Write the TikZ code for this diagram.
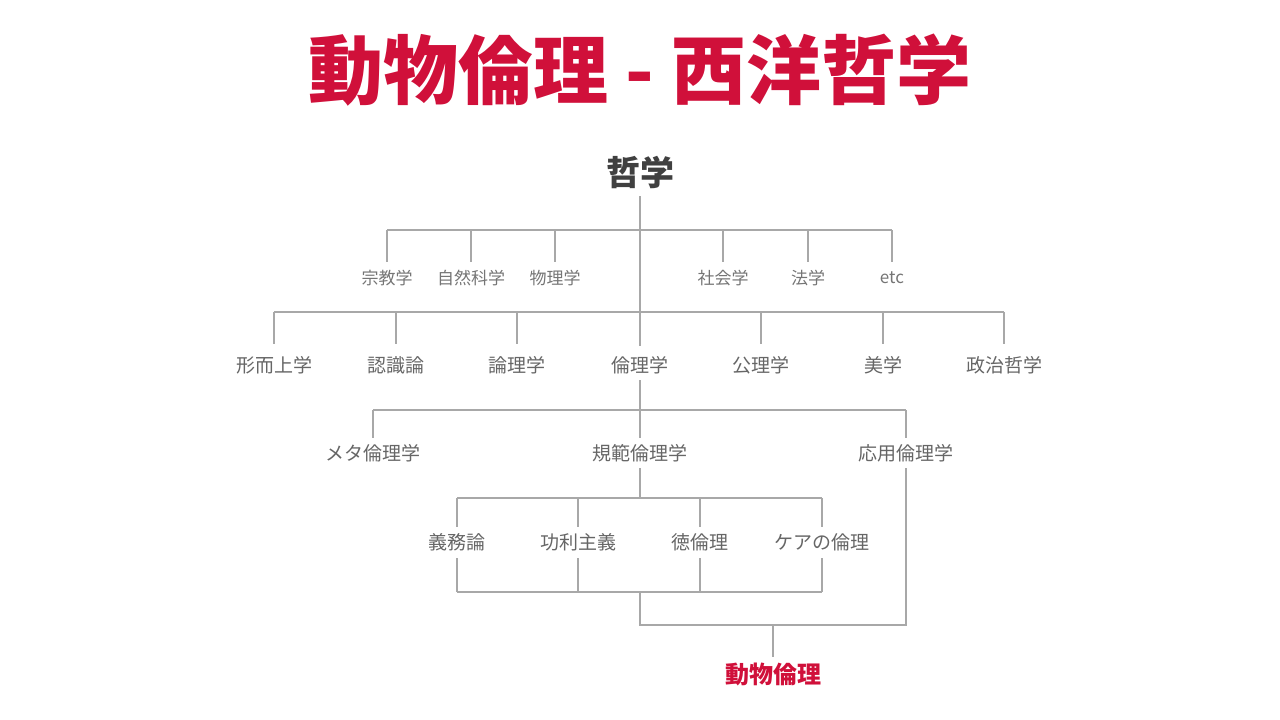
\documentclass[tikz,border=0pt]{standalone}
\usepackage{fontspec}
\setmainfont{Noto Sans CJK JP}
\definecolor{tred}{HTML}{D0103A}
\definecolor{tgray}{HTML}{666666}
\definecolor{lgray}{HTML}{A8A8A8}
\begin{document}
\begin{tikzpicture}[x=1pt,y=-1pt,
  ln/.style={draw=lgray,line width=2pt},
  lbl/.style={text=tgray,font=\fontsize{19}{22}\selectfont,inner sep=1pt},
  sml/.style={text=tgray!90,font=\fontsize{17}{20}\selectfont,inner sep=1pt}]
\useasboundingbox (0,0) rectangle (1280,720);
\node[text=tred,font=\fontsize{75}{80}\selectfont\bfseries] (title) at (640,70) {動物倫理 - 西洋哲学};
\node[text=black!75,font=\fontsize{34}{37}\selectfont\bfseries] (root) at (640,172) {哲学};
% row 1
\foreach \x/\t/\n in {387/宗教学/a1,471/自然科学/a2,555/物理学/a3,723/社会学/a4,808/法学/a5,892/etc/a6}
  \node[sml] (\n) at (\x,278) {\t};
\draw[ln] (640,196) -- (640,312);
\draw[ln] (387,230) -- (892,230);
\foreach \x in {387,471,555,723,808,892} \draw[ln] (\x,230) -- (\x,262);
% row 2
\foreach \x/\t/\n in {274/形而上学/b1,396/認識論/b2,517/論理学/b3,640/倫理学/b4,761/公理学/b5,883/美学/b6,1004/政治哲学/b7}
  \node[lbl] (\n) at (\x,365) {\t};
\draw[ln] (274,312) -- (1004,312);
\foreach \x in {274,396,517,761,883,1004} \draw[ln] (\x,312) -- (\x,344);
\draw[ln] (640,312) -- (640,346);
% row 3
\node[lbl] (c1) at (373,453) {メタ倫理学};
\node[lbl] (c2) at (640,453) {規範倫理学};
\node[lbl] (c3) at (906,453) {応用倫理学};
\draw[ln] (640,380) -- (640,410);
\draw[ln] (373,410) -- (906,410);
\foreach \x in {373,640,906} \draw[ln] (\x,410) -- (\x,438);
% row 4
\foreach \x/\t/\n in {457/義務論/d1,578/功利主義/d2,700/徳倫理/d3,822/ケアの倫理/d4}
  \node[lbl] (\n) at (\x,542) {\t};
\draw[ln] (640,468) -- (640,498);
\draw[ln] (457,498) -- (822,498);
\foreach \x in {457,578,700,822} {\draw[ln] (\x,498) -- (\x,527); \draw[ln] (\x,558) -- (\x,592);}
\draw[ln] (457,592) -- (822,592);
\draw[ln] (640,592) -- (640,625) -- (906,625) -- (906,468);
\draw[ln] (773,625) -- (773,657);
\node[text=tred,font=\fontsize{24}{27}\selectfont\bfseries] (goal) at (773,674) {動物倫理};
\end{tikzpicture}
\end{document}
